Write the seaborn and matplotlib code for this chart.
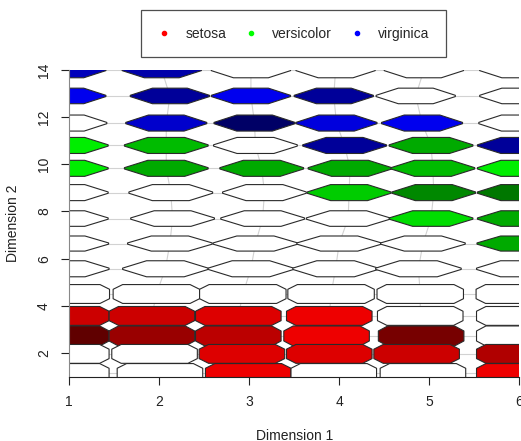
import numpy as np
import pandas as pd
import matplotlib
matplotlib.use("Agg")
import matplotlib.pyplot as plt
from matplotlib.patches import Polygon
from matplotlib.lines import Line2D
import seaborn as sns

# DATA
species = ["setosa", "versicolor", "virginica"]
species_colors = ["#ff0000", "#00ff00", "#0000ff"]

# row centres (Dimension 2), top to bottom
row_y = [14.0, 12.9, 11.75, 10.8, 9.83, 8.8, 7.7, 6.64, 5.57, 4.5, 3.57, 2.72, 1.96, 1.15]
row_h = [0.66, 0.66, 0.68, 0.68, 0.68, 0.68, 0.66, 0.64, 0.68, 0.8, 0.8, 0.85, 0.8, 0.8]
row_w = [0.88, 0.88, 0.9, 0.93, 0.93, 0.93, 0.93, 0.94, 0.95, 0.96, 0.95, 0.95, 0.95, 0.95]

# cell centres (Dimension 1), one list per row
cell_x = [
    [0.97, 2.03, 3.02, 3.96, 4.94, 6.0],
    [0.97, 2.12, 3.02, 3.94, 4.85, 6.0],
    [0.97, 2.08, 3.06, 3.97, 4.92, 6.0],
    [0.97, 2.08, 3.07, 4.06, 5.02, 6.0],
    [0.97, 2.08, 3.14, 4.12, 5.04, 6.0],
    [0.97, 2.13, 3.17, 4.11, 5.05, 6.0],
    [0.97, 2.15, 3.15, 4.10, 5.02, 6.0],
    [0.97, 2.12, 3.07, 4.00, 4.93, 6.0],
    [0.97, 2.07, 3.02, 3.96, 4.88, 6.0],
    [0.97, 1.97, 2.93, 3.91, 4.90, 6.0],
    [0.97, 1.92, 2.88, 3.89, 4.90, 6.0],
    [0.97, 1.92, 2.88, 3.86, 4.91, 6.0],
    [0.97, 1.95, 2.92, 3.89, 4.86, 6.0],
    [0.97, 2.01, 2.99, 3.94, 4.93, 6.0],
]

# fill of each cell ("w" = empty)
cell_colors = [
    ["#0000bb", "#0000aa", "w", "w", "w", "w"],
    ["#0000ee", "#000099", "#0000ee", "#000099", "w", "w"],
    ["w", "#0000cc", "#000066", "#0000dd", "#0000ee", "w"],
    ["#00ee00", "#00bb00", "w", "#000099", "#00aa00", "#000099"],
    ["#00ee00", "#00aa00", "#00aa00", "#00aa00", "#00bb00", "#00ee00"],
    ["w", "w", "w", "#00cc00", "#008800", "#007700"],
    ["w", "w", "w", "w", "#00dd00", "#00aa00"],
    ["w", "w", "w", "w", "w", "#00aa00"],
    ["w", "w", "w", "w", "w", "w"],
    ["w", "w", "w", "w", "w", "w"],
    ["#cc0000", "#cc0000", "#dd0000", "#ee0000", "w", "w"],
    ["#600000", "#990000", "#bb0000", "#ee0000", "#770000", "w"],
    ["w", "w", "#dd0000", "#dd0000", "#cc0000", "#b00000"],
    ["w", "w", "#ee0000", "w", "w", "#ee0000"],
]

sns.set_style("ticks")
plt.rcParams["font.family"] = ["Liberation Sans", "DejaVu Sans"]

fig = plt.figure(figsize=(5.21, 4.41), dpi=100)
ax = fig.add_axes([69 / 521, 1 - 377 / 441, 450.3 / 521, 307 / 441])

# mesh links between neighbouring cells
links = []
for r, y in enumerate(row_y):
    for c, x in enumerate(cell_x[r]):
        links.append({"row": r, "col": c, "x": x, "y": y})
links = pd.DataFrame(links)
sns.lineplot(data=links, x="x", y="y", units="col", estimator=None, sort=False,
             color="#d2d2d2", lw=0.8, ax=ax, legend=False, zorder=1)
sns.lineplot(data=links, x="x", y="y", units="row", estimator=None,
             color="#d2d2d2", lw=0.8, ax=ax, legend=False, zorder=1)

# cells
for r, y in enumerate(row_y):
    h, w = row_h[r], row_w[r]
    tall = h > 0.7
    v = 0.5 if tall else 0.08
    t = 0.11 * w if tall else 0.28 * w
    for c, x in enumerate(cell_x[r]):
        col = cell_colors[r][c]
        verts = [
            (x - w / 2, y - v * h / 2), (x - w / 2, y + v * h / 2),
            (x - w / 2 + t, y + h / 2), (x + w / 2 - t, y + h / 2),
            (x + w / 2, y + v * h / 2), (x + w / 2, y - v * h / 2),
            (x + w / 2 - t, y - h / 2), (x - w / 2 + t, y - h / 2),
        ]
        ax.add_patch(Polygon(verts, closed=True,
                             facecolor="white" if col == "w" else col,
                             edgecolor="#2a2a2a", lw=0.8, zorder=2))

ax.set_xlim(1, 6)
ax.set_ylim(0.98, 14)
ax.set_xticks([1, 2, 3, 4, 5, 6])
ax.set_yticks([2, 4, 6, 8, 10, 12, 14])
ax.tick_params(direction="out", length=6, width=0.8, colors="#222222",
               labelsize=10, labelcolor="#222222", pad=7)
for lab in ax.get_yticklabels():
    lab.set_rotation(90)
    lab.set_va("center")
ax.set_xlabel("Dimension 1", fontsize=10, color="#222222", labelpad=14)
ax.set_ylabel("Dimension 2", fontsize=10, color="#222222", labelpad=12)
sns.despine(ax=ax)
ax.spines["left"].set_color("#888888")
ax.spines["bottom"].set_color("#222222")

handles = [Line2D([], [], ls="", marker="o", ms=3, color=c) for c in species_colors]
leg = fig.legend(handles, species, loc="upper center", bbox_to_anchor=(0.563, 0.977),
                 ncol=3, fontsize=10, frameon=True, fancybox=False, edgecolor="#222222",
                 borderpad=1.2, borderaxespad=0, handlelength=1.0, handletextpad=1.0,
                 columnspacing=1.3)
leg.get_frame().set_linewidth(0.9)

fig.savefig("out.png", dpi=100)
